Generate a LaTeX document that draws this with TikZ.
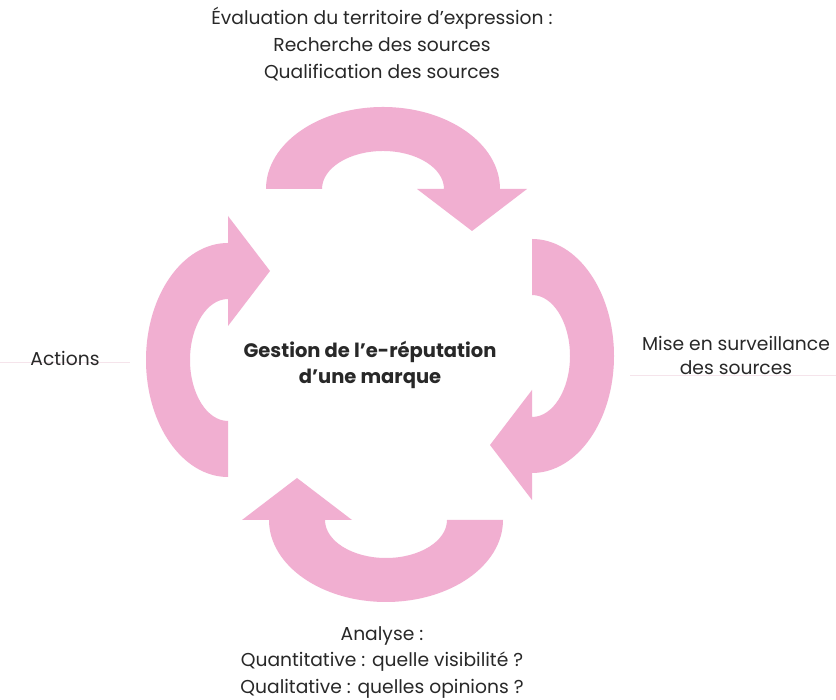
\documentclass[tikz,border=0pt]{standalone}
\usepackage{fontspec}
\setmainfont{Poppins}
\definecolor{pinkA}{RGB}{241,175,209}
\definecolor{txt}{RGB}{40,40,40}
\definecolor{faint}{RGB}{245,228,235}
\begin{document}
\begin{tikzpicture}[x=1pt,y=1pt]
\tikzset{
  cyclearrow/.pic={
    \fill[pinkA] (-117,0) arc[start angle=180,end angle=0,x radius=117,y radius=82]
      -- (144,0) -- (89,-42) -- (34,0) -- (61,0)
      arc[start angle=0,end angle=180,x radius=61,y radius=38] -- cycle;
  },
  lbl/.style={text=txt, align=center, font=\fontsize{18.7}{27}\selectfont},
  title/.style={text=txt, align=center, font=\fontsize{19.5}{26}\selectfont\bfseries},
}
\useasboundingbox (0,0) rectangle (836,700);
\fill[white] (0,0) rectangle (836,700);
\draw[faint, line width=0.6pt] (0,338) -- (130,338);
\draw[faint, line width=0.6pt] (630,325) -- (836,325);
\pic (atop) at (383,511) {cyclearrow};
\pic[rotate=-90] (aright) at (532,344) {cyclearrow};
\pic[rotate=180] (abottom) at (386,180) {cyclearrow};
\pic[rotate=90] (aleft) at (228,340) {cyclearrow};
\node[title] (center) at (370,335) {Gestion de l’e-réputation\\d’une marque};
\node[lbl] (top) at (382,655.5) {Évaluation du territoire d’expression :\\Recherche des sources\\Qualification des sources};
\node[lbl, font=\fontsize{18.7}{24}\selectfont] (right) at (736,345) {Mise en surveillance\\des sources};
\node[lbl] (left) at (65,342) {Actions};
\node[lbl, font=\fontsize{18.7}{26.5}\selectfont] (bottom) at (382,37.5) {Analyse :\\Quantitative : quelle visibilité ?\\Qualitative : quelles opinions ?};
\end{tikzpicture}
\end{document}
